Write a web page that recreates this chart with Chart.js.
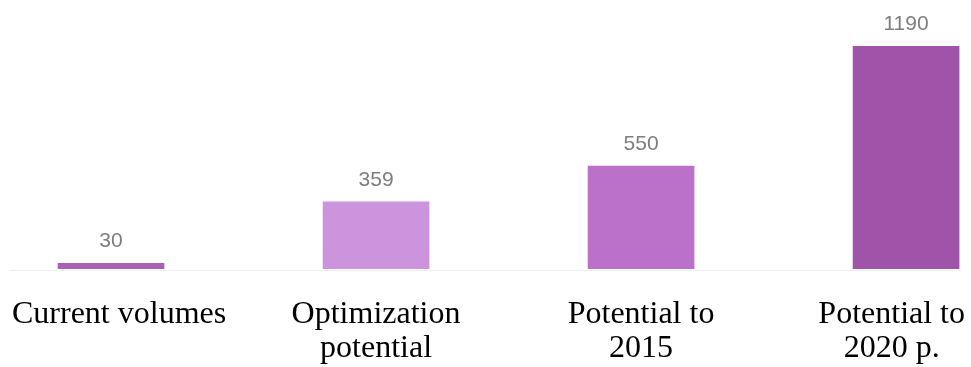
<!doctype html>
<html lang="en">
  <head>
    <meta charset="utf-8">
    <title>Volumes bar chart</title>
    <style>
      html, body { margin: 0; padding: 0; background: #fff; }
      #wrap { width: 971px; height: 367px; position: relative; }
    </style>
  </head>
  <body>
    <div id="wrap">
      <canvas id="myChart"></canvas>
    </div>

    <script src="https://cdn.jsdelivr.net/npm/chart.js"></script>
    <script>
        // data
        var categories = [
            ['Current volumes'],
            ['Optimization', 'potential'],
            ['Potential to', '2015'],
            ['Potential to', '2020 p.']
        ];
        var values = [30, 359, 550, 1190];
        var barColors = ['#a961b4', '#cd94de', '#bb70c9', '#a054a9'];

        var points = [];
        for (var i = 0; i < values.length; i++) {
            points.push({x: i, y: values[i]});
        }

        // numbers above bars + serif category labels under them
        var labelPlugin = {
            id: 'labelPlugin',
            afterDatasetsDraw: function(chart) {
                var ctx = chart.ctx;
                var meta = chart.getDatasetMeta(0);
                var bottom = chart.chartArea.bottom;

                ctx.save();
                ctx.strokeStyle = '#efefef';
                ctx.lineWidth = 1;
                ctx.beginPath();
                ctx.moveTo(10, bottom + 1.5);
                ctx.lineTo(962, bottom + 1.5);
                ctx.stroke();

                ctx.textAlign = 'center';
                meta.data.forEach(function(bar, idx) {
                    ctx.fillStyle = '#7e7e7e';
                    ctx.font = '21px "Liberation Sans", Arial, sans-serif';
                    ctx.textBaseline = 'alphabetic';
                    ctx.fillText(String(values[idx]), bar.x, bar.y - 16);

                    ctx.fillStyle = '#000';
                    ctx.font = '32px "Liberation Serif", "Times New Roman", serif';
                    var lines = categories[idx];
                    var w = 0;
                    lines.forEach(function(l) { w = Math.max(w, ctx.measureText(l).width); });
                    // keep the text inside the page
                    var cx = Math.max(bar.x, w / 2 + 12);
                    cx = Math.min(cx, chart.width - w / 2 - 6);
                    for (var k = 0; k < lines.length; k++) {
                        ctx.fillText(lines[k], cx, bottom + 54 + k * 34);
                    }
                });
                ctx.restore();
            }
        };

        const ctx = document.getElementById('myChart');
        new Chart(ctx, {
            type: 'bar',
            data: {
                datasets: [{
                    data: points,
                    backgroundColor: barColors,
                    borderWidth: 0,
                    barThickness: 106
                }]
            },
            options: {
                responsive: true,
                maintainAspectRatio: false,
                animation: false,
                layout: {
                    padding: {top: 7, bottom: 98, left: 0, right: 0}
                },
                plugins: {
                    legend: {display: false},
                    tooltip: {enabled: false}
                },
                scales: {
                    x: {
                        type: 'linear',
                        display: false,
                        offset: false,
                        min: -0.419,
                        max: 3.245
                    },
                    y: {
                        display: false,
                        min: 0,
                        max: 1400
                    }
                }
            },
            plugins: [labelPlugin]
        });
    </script>
  </body>
</html>
